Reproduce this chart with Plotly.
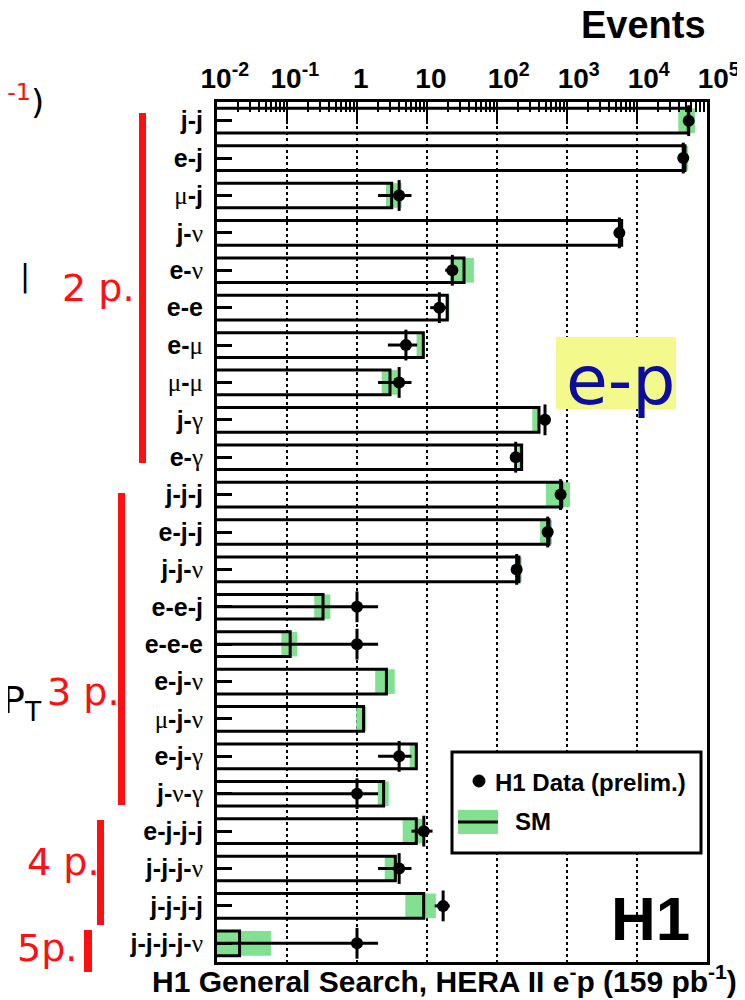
import math
import plotly.graph_objects as go

# ---------------- data ----------------
categories = ["j-j", "e-j", "μ-j", "j-ν", "e-ν", "e-e", "e-μ", "μ-μ", "j-γ", "e-γ",
              "j-j-j", "e-j-j", "j-j-ν", "e-e-j", "e-e-e", "e-j-ν", "μ-j-ν", "e-j-γ",
              "j-ν-γ", "e-j-j-j", "j-j-j-ν", "j-j-j-j", "j-j-j-j-ν"]
sm_values = [54000, 48500, 3.13, 6040, 33.8, 19.5, 8.85, 2.96, 398, 225,
             840, 553, 206, 0.327, 0.111, 2.63, 1.24, 7.03,
             2.4, 7.03, 3.53, 8.97, 0.021]
sm_low = [38900, 43500, 2.6, 5400, 21.4, 18.3, 7.1, 2.25, 319, 201,
          501, 411, 191, 0.245, 0.083, 1.82, 0.977, 5.66,
          1.98, 4.5, 2.49, 4.9, 0.005]
sm_high = [67400, 54000, 4.35, 6250, 46.8, 20.9, 9.4, 3.77, 405, 233,
           1104, 611, 225, 0.416, 0.139, 3.46, 1.36, 7.4,
           2.84, 8.5, 3.73, 13.4, 0.059]
data_values = [54800, 45800, 4, 5600, 23, 15, 5, 4, 485, 185,
               810, 530, 191, 1, 1, None, None, 4,
               1, 9, 4, 17, 1]
tick_vals = [0.01, 0.1, 1, 10, 100, 1000, 1e4, 1e5]
tick_text = ["10<sup>-2</sup>", "10<sup>-1</sup>", "1", "10", "10<sup>2</sup>",
             "10<sup>3</sup>", "10<sup>4</sup>", "10<sup>5</sup>"]
minor_vals = [k * 10 ** e for e in range(-2, 5) for k in range(2, 10)]

GREEN = "#82e191"
FONT = "Liberation Sans, Arial, sans-serif"
SERIF = "Liberation Serif, Times New Roman, serif"
BAR_START = 0.001  # below the axis start, so the bar starts at the frame

# ---------------- helpers ----------------
GREEK = set("μνγ")


def fmt_label(lab):
    parts = lab.split("-")
    out = []
    for p in parts:
        if p in GREEK:
            out.append(f"<span style='font-family:{SERIF};font-weight:normal'>{p}</span>")
        else:
            out.append(f"<b>{p}</b>")
    return "<b>-</b>".join(out)


def pad_tick(t):
    # ROOT-style labels sit slightly right of the tick
    k = 3 if "<sup>" in t and not t.endswith("-2</sup>") and not t.endswith("-1</sup>") else (2 if "<sup>" in t else 1)
    return "&nbsp;" * k + t


# The page body has an 8px default margin; screen coordinates below
# refer to the browser window. Plot area on screen: x 217..707, y 102..962
OFF = 8


def px(x):
    return (x - 217) / 490.0


def py(y):
    return (962 - y) / 860.0


n = len(categories)
fig = go.Figure()

# SM uncertainty band
fig.add_trace(go.Bar(
    y=categories, x=[h - l for h, l in zip(sm_high, sm_low)], base=sm_low,
    orientation="h", width=0.66,
    marker=dict(color=GREEN, line=dict(width=0)),
    showlegend=False, hoverinfo="skip"))

# SM bars (outline)
fig.add_trace(go.Bar(
    y=categories, x=[v - BAR_START for v in sm_values], base=[BAR_START] * n,
    orientation="h", width=0.66,
    marker=dict(color="rgba(0,0,0,0)", line=dict(color="black", width=3)),
    showlegend=False))

# data points
dc = [c for c, v in zip(categories, data_values) if v is not None]
dv = [v for v in data_values if v is not None]
fig.add_trace(go.Scatter(
    x=dv, y=dc, mode="markers",
    marker=dict(symbol="line-ns", size=22, line=dict(width=3, color="black")),
    error_x=dict(type="data", array=[math.sqrt(v) for v in dv],
                 color="black", thickness=3, width=0),
    showlegend=False))
fig.add_trace(go.Scatter(
    x=dv, y=dc, mode="markers",
    marker=dict(symbol="circle", size=12, color="black"),
    showlegend=False))

fig.update_layout(
    width=745, height=1000, autosize=False,
    margin=dict(l=217 - OFF, r=745 - 707 + OFF, t=102 - OFF, b=1000 - 962 + OFF),
    paper_bgcolor="white", plot_bgcolor="white",
    barmode="overlay", showlegend=False,
    font=dict(family=FONT, color="black"),
    xaxis=dict(
        type="log", range=[-2, 5], side="top", automargin=False,
        tickmode="array", tickvals=tick_vals, ticktext=[pad_tick(t) for t in tick_text],
        ticks="inside", ticklen=22, tickwidth=2, tickcolor="black",
        tickfont=dict(family=FONT, size=28, color="black", weight="bold"),
        ticklabelstandoff=0,
        showline=True, linewidth=3, linecolor="black", mirror=True,
        showgrid=True, gridcolor="black", griddash="dot", gridwidth=1.5,
        zeroline=False, layer="above traces",
        minor=dict(tickmode="array", tickvals=minor_vals, ticks="inside",
                   ticklen=10, tickwidth=1.5, tickcolor="black", showgrid=False),
    ),
    yaxis=dict(
        type="category", categoryorder="array", categoryarray=categories,
        range=[n - 0.5, -0.5], automargin=False,
        tickmode="array", tickvals=categories,
        ticktext=[fmt_label(c) for c in categories],
        ticks="inside", ticklen=15, tickwidth=3, tickcolor="black",
        tickfont=dict(family=FONT, size=25, color="black"),
        ticklabelstandoff=6,
        showline=True, linewidth=3, linecolor="black", mirror=True,
        showgrid=False, zeroline=False, layer="above traces",
    ),
)

shapes = []
annos = []

# Legend box
shapes.append(dict(type="rect", xref="paper", yref="paper",
                   x0=px(452), x1=px(701), y0=py(853), y1=py(752),
                   line=dict(color="black", width=3), fillcolor="white", layer="above"))
shapes.append(dict(type="circle", xref="paper", yref="paper",
                   x0=px(473), x1=px(485), y0=py(787), y1=py(775),
                   line=dict(color="black", width=1), fillcolor="black", layer="above"))
shapes.append(dict(type="rect", xref="paper", yref="paper",
                   x0=px(458), x1=px(498), y0=py(834), y1=py(810),
                   line=dict(width=0), fillcolor=GREEN, layer="above"))
shapes.append(dict(type="line", xref="paper", yref="paper",
                   x0=px(458), x1=px(498), y0=py(822), y1=py(822),
                   line=dict(color="black", width=3), layer="above"))
annos.append(dict(text="<b>H1 Data (prelim.)</b>", xref="paper", yref="paper",
                  x=px(493), y=py(782), xanchor="left", yanchor="middle",
                  showarrow=False, font=dict(size=24, family=FONT, color="black")))
annos.append(dict(text="<b>SM</b>", xref="paper", yref="paper",
                  x=px(513), y=py(822), xanchor="left", yanchor="middle",
                  showarrow=False, font=dict(size=24, family=FONT, color="black")))

# H1 logo text
annos.append(dict(text="<b>H1</b>", xref="paper", yref="paper",
                  x=px(650), y=py(918), xanchor="center", yanchor="middle",
                  showarrow=False, font=dict(size=62, family=FONT, color="black")))

# Axis title and caption
annos.append(dict(text="<b>Events</b>", xref="paper", yref="paper",
                  x=px(708), y=py(25), xanchor="right", yanchor="middle",
                  showarrow=False, font=dict(size=38, family=FONT, color="black")))
annos.append(dict(text="<b>H1 General Search, HERA II e<sup>-</sup>p (159 pb<sup>-1</sup>)</b>",
                  xref="paper", yref="paper",
                  x=px(444), y=py(979), xanchor="center", yanchor="middle",
                  showarrow=False, font=dict(size=30, family=FONT, color="black")))

# e-p box
shapes.append(dict(type="rect", xref="paper", yref="paper",
                   x0=px(556), x1=px(676), y0=py(409), y1=py(337),
                   line=dict(width=0), fillcolor="#f4f98c", layer="above"))
annos.append(dict(text="e-p", xref="paper", yref="paper",
                  x=px(621), y=py(380), xanchor="center", yanchor="middle",
                  showarrow=False, font=dict(size=68, family="DejaVu Sans, sans-serif",
                                             color="#0c0c9e")))

# red overlay annotations (slide decorations)
RED = "#ff1010"
for (x0, x1, y0, y1) in [(139, 146, 113, 463), (118, 125, 493, 805),
                         (97, 104, 820, 925), (84, 92, 930, 972)]:
    shapes.append(dict(type="rect", xref="paper", yref="paper",
                       x0=px(x0), x1=px(x1), y0=py(y1), y1=py(y0),
                       line=dict(width=0), fillcolor=RED, layer="above"))
for (txt, x, y) in [("2 p.", 60, 288), ("3 p.", 45, 692), ("4 p.", 25, 862), ("5p.", 15, 948)]:
    annos.append(dict(text=txt, xref="paper", yref="paper",
                      x=px(x), y=py(y), xanchor="left", yanchor="middle",
                      showarrow=False, font=dict(size=38, family="DejaVu Sans, sans-serif",
                                                 color=RED)))
annos.append(dict(text=f"<span style='color:{RED}'>pb<sup>-1</sup></span>)",
                  xref="paper", yref="paper", x=px(46), y=py(100),
                  xanchor="right", yanchor="middle", showarrow=False,
                  font=dict(size=34, family="DejaVu Sans, sans-serif", color="black")))
annos.append(dict(text="|", xref="paper", yref="paper", x=px(25), y=py(276),
                  xanchor="center", yanchor="middle", showarrow=False,
                  font=dict(size=30, family="DejaVu Sans, sans-serif", color="black")))
annos.append(dict(text="ΣP<sub>T</sub>", xref="paper", yref="paper", x=px(44), y=py(702),
                  xanchor="right", yanchor="middle", showarrow=False,
                  font=dict(size=38, family="DejaVu Sans, sans-serif", color="black")))

fig.update_layout(shapes=shapes, annotations=annos)
fig.write_html("out.html")
